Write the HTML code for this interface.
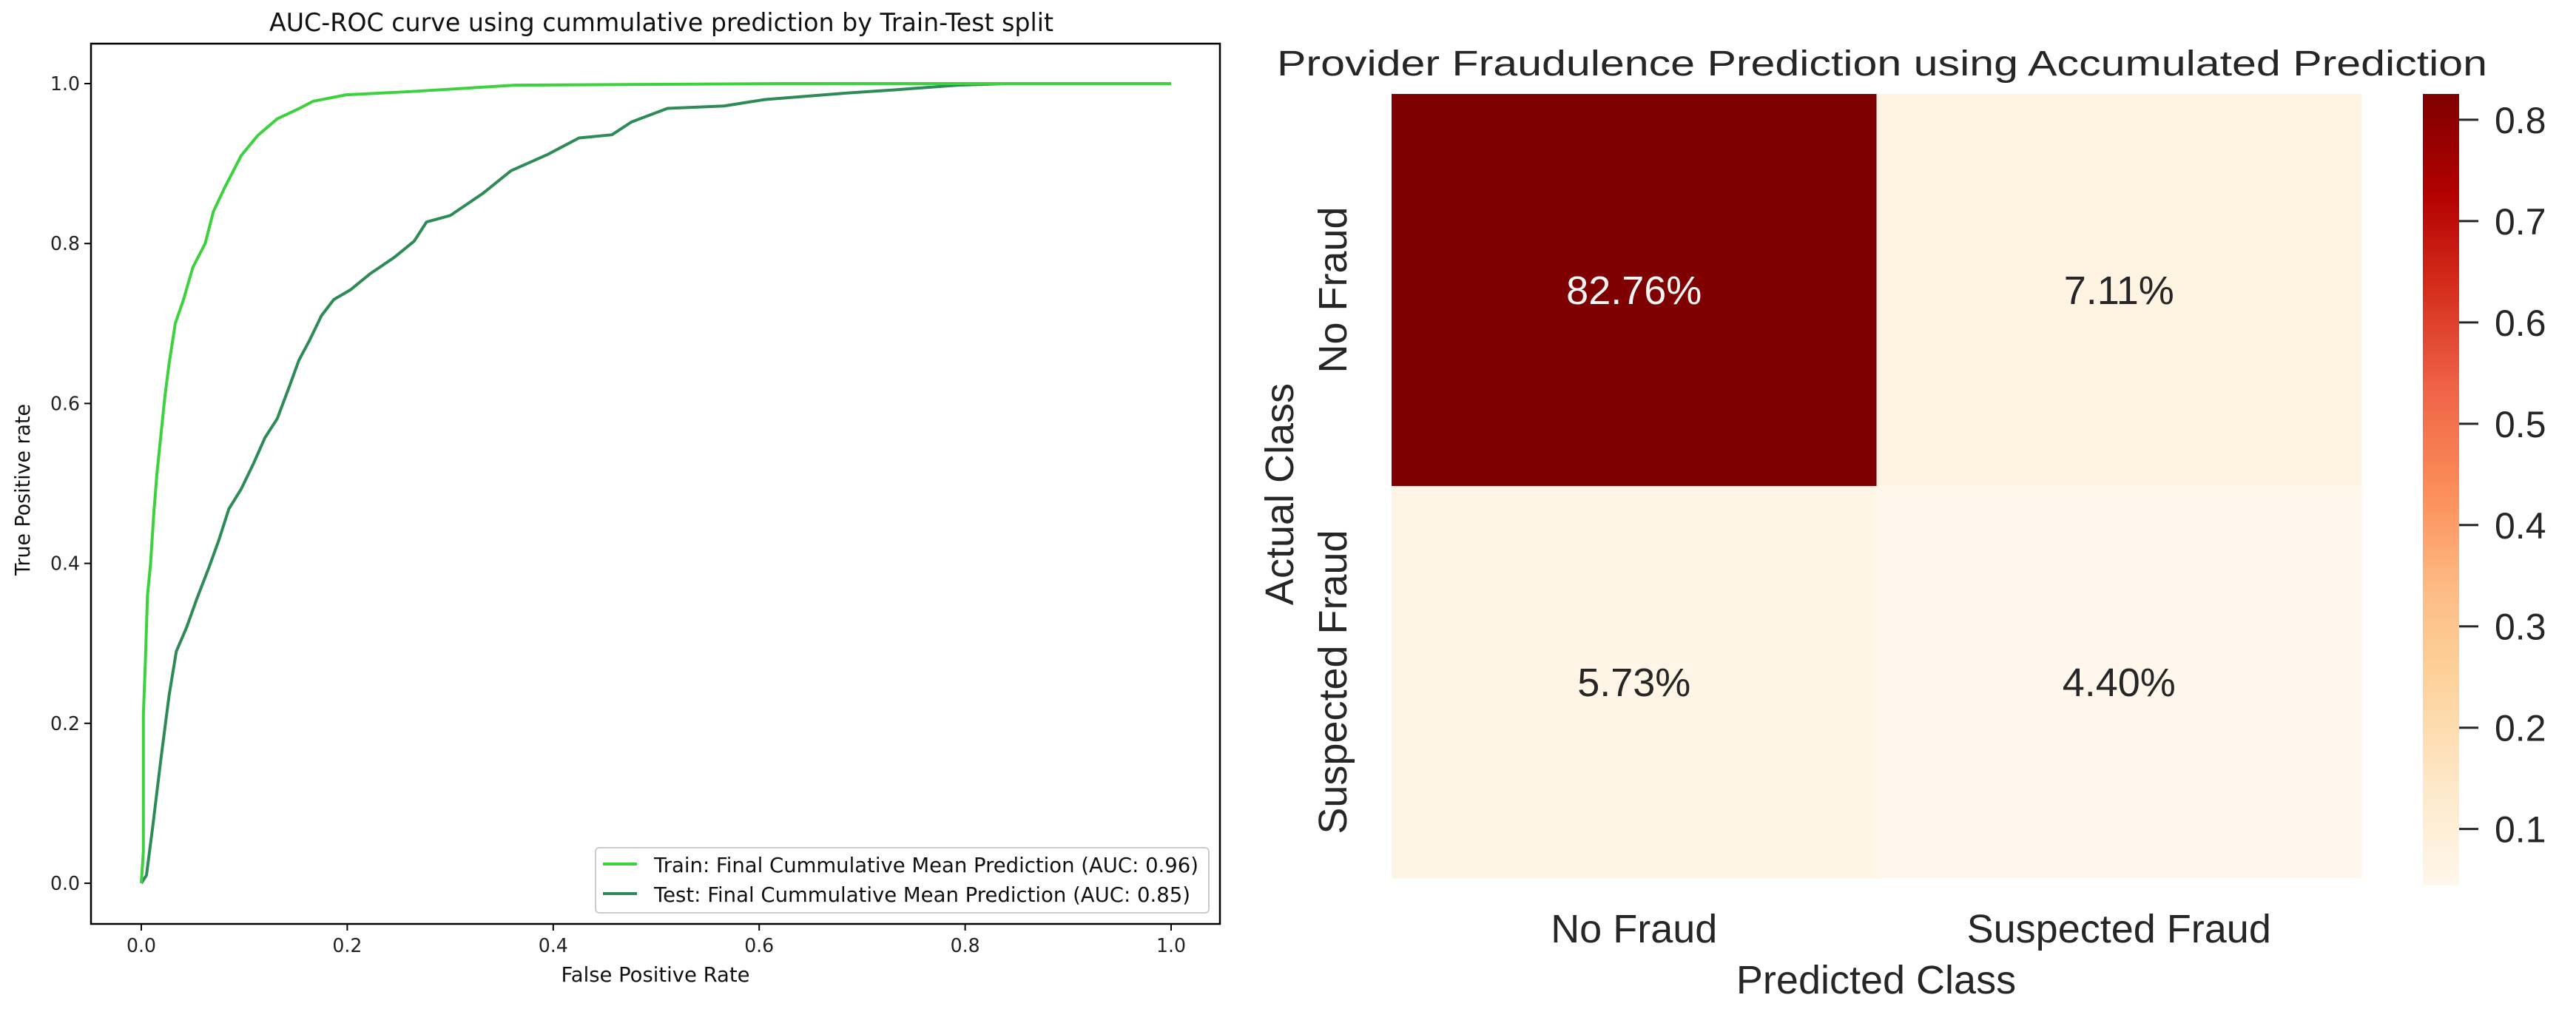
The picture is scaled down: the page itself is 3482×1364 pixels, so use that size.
<!DOCTYPE html>
<html><head><meta charset="utf-8"><style>
html,body{margin:0;padding:0;background:#fff;}
svg{display:block;font-family:"DejaVu Sans","Liberation Sans",sans-serif;}
</style></head><body>
<svg id="root" width="3482" height="1364" viewBox="0 0 3482 1364">
<g id="roc"></g>
<g id="heat"></g>
</svg>
<script>
// ROC data
const trainFpr=[0,0.002,0.002,0.004,0.006,0.009,0.012,0.015,0.019,0.023,0.027,0.033,0.041,0.05,0.062,0.07,0.081,0.097,0.113,0.132,0.152,0.167,0.199,0.261,0.363,0.621,1];
const trainTpr=[0,0.04,0.21,0.28,0.36,0.40,0.46,0.51,0.56,0.61,0.65,0.70,0.73,0.77,0.80,0.84,0.87,0.91,0.935,0.956,0.968,0.978,0.986,0.99,0.998,1,1];
const testFpr=[0,0.005,0.011,0.019,0.027,0.034,0.044,0.054,0.066,0.075,0.085,0.097,0.109,0.12,0.132,0.144,0.153,0.163,0.175,0.187,0.203,0.222,0.246,0.265,0.277,0.3,0.332,0.359,0.394,0.425,0.457,0.476,0.511,0.566,0.605,0.683,0.73,0.793,0.84,1];
const testTpr=[0,0.01,0.07,0.155,0.235,0.29,0.32,0.356,0.396,0.428,0.468,0.493,0.525,0.557,0.581,0.622,0.654,0.678,0.71,0.73,0.742,0.762,0.783,0.803,0.827,0.835,0.863,0.891,0.911,0.932,0.936,0.952,0.969,0.972,0.98,0.988,0.992,0.998,1,1];
const rocTicks=[0,0.2,0.4,0.6,0.8,1.0];
const rocTickLabels=["0.0","0.2","0.4","0.6","0.8","1.0"];
// Heatmap data
const actualClasses=["No Fraud","Suspected Fraud"];
const predictedClasses=["No Fraud","Suspected Fraud"];
const cellValues=[[0.8276,0.0711],[0.0573,0.0440]];
const cellLabels=[["82.76%","7.11%"],["5.73%","4.40%"]];
const cbTicks=[0.1,0.2,0.3,0.4,0.5,0.6,0.7,0.8];
const cbTickLabels=["0.1","0.2","0.3","0.4","0.5","0.6","0.7","0.8"];

const NS="http://www.w3.org/2000/svg";
function mk(parent,tag,attrs,text){const e=document.createElementNS(NS,tag);for(const k in attrs)e.setAttribute(k,attrs[k]);if(text!==undefined)e.textContent=text;parent.appendChild(e);return e;}

// ---- ROC ----
const roc=document.getElementById('roc');
const X0=191,X1=1583,Y0=1194,Y1=113;
const sx=v=>X0+v*(X1-X0), sy=v=>Y0+v*(Y1-Y0);
let t;
t=mk(roc,'text',{x:894,y:42,'font-size':34,'text-anchor':'middle',fill:'#111',textLength:1060,lengthAdjust:'spacingAndGlyphs'},'AUC-ROC curve using cummulative prediction by Train-Test split');


t=mk(roc,'rect',{x:123,y:59,width:1526,height:1190,fill:'none',stroke:'#000','stroke-width':2.5});


rocTicks.forEach((v,i)=>{
  let a=mk(roc,'line',{x1:sx(v),x2:sx(v),y1:1249,y2:1258,stroke:'#000','stroke-width':2});
  
  
  a=mk(roc,'text',{x:sx(v),y:1287,'font-size':26,'text-anchor':'middle',fill:'#222',textLength:40,lengthAdjust:'spacingAndGlyphs'},rocTickLabels[i]);
  
  
  a=mk(roc,'line',{x1:114,x2:123,y1:sy(v),y2:sy(v),stroke:'#000','stroke-width':2});
  
  
  a=mk(roc,'text',{x:108,y:sy(v)+9,'font-size':26,'text-anchor':'end',fill:'#222',textLength:40,lengthAdjust:'spacingAndGlyphs'},rocTickLabels[i]);
  
  
});
t=mk(roc,'text',{x:886,y:1327,'font-size':28,'text-anchor':'middle',fill:'#111',textLength:255,lengthAdjust:'spacingAndGlyphs'},'False Positive Rate');


t=mk(roc,'text',{x:0,y:0,'font-size':28,'text-anchor':'middle',fill:'#111',transform:'translate(40,662) rotate(-90)',textLength:232,lengthAdjust:'spacingAndGlyphs'},'True Positive rate');


function linePts(xs,ys){return xs.map((x,i)=>sx(x)+','+sy(ys[i])).join(' ');}
t=mk(roc,'polyline',{points:linePts(testFpr,testTpr),fill:'none',stroke:'#2e8b57','stroke-width':4,'stroke-linejoin':'round'});


t=mk(roc,'polyline',{points:linePts(trainFpr,trainTpr),fill:'none',stroke:'#3ed13e','stroke-width':4,'stroke-linejoin':'round'});


const lg=mk(roc,'g',{});


mk(lg,'rect',{x:805,y:1146,width:829,height:88,rx:5,fill:'#fff',stroke:'#ccc','stroke-width':2});
t=mk(lg,'line',{x1:815,x2:861,y1:1168,y2:1168,stroke:'#3ed13e','stroke-width':4});


t=mk(lg,'text',{x:884,y:1179,'font-size':28,fill:'#111',textLength:736,lengthAdjust:'spacingAndGlyphs'},'Train: Final Cummulative Mean Prediction (AUC: 0.96)');


t=mk(lg,'line',{x1:815,x2:861,y1:1208,y2:1208,stroke:'#2e8b57','stroke-width':4});


t=mk(lg,'text',{x:884,y:1219,'font-size':28,fill:'#111',textLength:725,lengthAdjust:'spacingAndGlyphs'},'Test: Final Cummulative Mean Prediction (AUC: 0.85)');



// ---- Heatmap ----
const heat=document.getElementById('heat');
const HX0=1881,HX1=3192,HY0=127,HY1=1187;
const VMIN=0.045,VMAX=0.8255;
const stops=["#fff7ec","#fee8c8","#fdd49e","#fdbb84","#fc8d59","#ef6548","#d7301f","#b30000","#7f0000"];
function hex(h){return [1,3,5].map(i=>parseInt(h.substr(i,2),16));}
function cmap(v){let f=Math.max(0,Math.min(1,(v-VMIN)/(VMAX-VMIN)))*(stops.length-1);let i=Math.min(Math.floor(f),stops.length-2);let r=f-i;let a=hex(stops[i]),b=hex(stops[i+1]);return 'rgb('+a.map((c,k)=>Math.round(c+(b[k]-c)*r)).join(',')+')';}
const cw=(HX1-HX0)/predictedClasses.length, ch=(HY1-HY0)/actualClasses.length;
t=mk(heat,'text',{x:2544,y:102,'font-size':48,'text-anchor':'middle',fill:'#262626',textLength:1636,lengthAdjust:'spacingAndGlyphs',style:'font-family:"Liberation Sans",sans-serif'},'Provider Fraudulence Prediction using Accumulated Prediction');


actualClasses.forEach((rc,r)=>{
  predictedClasses.forEach((pc,c)=>{
    const v=cellValues[r][c];
    let e=mk(heat,'rect',{x:HX0+c*cw,y:HY0+r*ch,width:cw+0.5,height:ch+0.5,fill:cmap(v)});
    
    
    e=mk(heat,'text',{x:HX0+(c+0.5)*cw,y:HY0+(r+0.5)*ch+19,'font-size':54,'text-anchor':'middle',fill:v>0.5?'#f5f5f5':'#262626',style:'font-family:"Liberation Sans",sans-serif'},cellLabels[r][c]);
    
    
  });
  let e=mk(heat,'text',{x:0,y:0,'font-size':54,'text-anchor':'middle',fill:'#262626',transform:'translate('+1820+','+(HY0+(r+0.5)*ch)+') rotate(-90)',style:'font-family:"Liberation Sans",sans-serif'},rc);
  
  
});
predictedClasses.forEach((pc,c)=>{
  let e=mk(heat,'text',{x:HX0+(c+0.5)*cw,y:1274,'font-size':54,'text-anchor':'middle',fill:'#262626',style:'font-family:"Liberation Sans",sans-serif'},pc);
  
  
});
t=mk(heat,'text',{x:2536,y:1343,'font-size':54,'text-anchor':'middle',fill:'#262626',style:'font-family:"Liberation Sans",sans-serif'},'Predicted Class');


t=mk(heat,'text',{x:0,y:0,'font-size':54,'text-anchor':'middle',fill:'#262626',transform:'translate(1748,668) rotate(-90)',style:'font-family:"Liberation Sans",sans-serif'},'Actual Class');


// colorbar
const CBX=3275,CBW=49,CBY0=127,CBY1=1196;
const cy=v=>CBY1-(v-VMIN)/(VMAX-VMIN)*(CBY1-CBY0);
const cbg=mk(heat,'g',{});


const N=200;
for(let i=0;i<N;i++){
  const v0=VMIN+(VMAX-VMIN)*i/N;
  const y=cy(v0+(VMAX-VMIN)/N);
  mk(cbg,'rect',{x:CBX,y:y,width:CBW,height:(CBY1-CBY0)/N+0.8,fill:cmap(v0+(VMAX-VMIN)/(2*N))});
}
cbTicks.forEach((v,i)=>{
  let e=mk(cbg,'line',{x1:CBX+CBW,x2:CBX+CBW+26,y1:cy(v),y2:cy(v),stroke:'#262626','stroke-width':3});
  
  
  e=mk(cbg,'text',{x:3372,y:cy(v)+18,'font-size':50,fill:'#262626',style:'font-family:"Liberation Sans",sans-serif'},cbTickLabels[i]);
  
  
});
</script>
</body></html>
